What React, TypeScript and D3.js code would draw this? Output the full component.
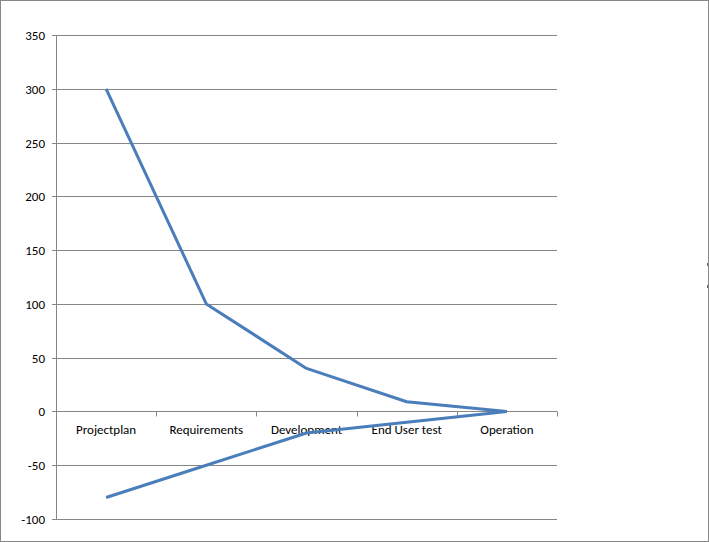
import React from "react";
import * as d3 from "d3";

const categories = ["Projectplan", "Requirements", "Development", "End User test", "Operation"];
const seriesUpper = [300, 100, 40, 9, 0];
const seriesLower = [-80, -50, -20, -10, 0];
const yTicks = [-100, -50, 0, 50, 100, 150, 200, 250, 300, 350];

const W = 709;
const H = 542;
const left = 56;
const right = 557;
const top = 35;
const bottom = 519;

export default function App() {
  const x = d3.scaleBand<string>().domain(categories).range([left, right]).paddingInner(0).paddingOuter(0);
  const y = d3.scaleLinear().domain([-100, 350]).range([bottom, top]);
  const line = d3
    .line<number>()
    .x((_, i) => (x(categories[i]) as number) + x.bandwidth() / 2)
    .y((d) => y(d));
  const font = "Calibri, Carlito, 'Open Sans', sans-serif";
  const tickXs = [...categories.map((c) => x(c) as number), right];
  return (
    <svg width={W} height={H} style={{ position: "fixed", left: 0, top: 0, background: "#fff" }}>
      <rect x={0.5} y={0.5} width={W - 1} height={H - 1} fill="#fff" stroke="#888" strokeWidth={1} />
      {yTicks.map((t) => (
        <g key={t}>
          <line x1={left - 4} x2={right} y1={Math.round(y(t)) + 0.5} y2={Math.round(y(t)) + 0.5} stroke="#868686" strokeWidth={1} />
          <text x={45} y={y(t) + 5} textAnchor="end" fontFamily={font} fontSize={13} fill="#000">
            {t}
          </text>
        </g>
      ))}
      <line x1={left + 0.5} x2={left + 0.5} y1={top} y2={bottom} stroke="#868686" strokeWidth={1} />
      {tickXs.map((tx, i) => (
        <line key={i} x1={Math.round(tx) + 0.5} x2={Math.round(tx) + 0.5} y1={y(0)} y2={y(0) + 5} stroke="#868686" strokeWidth={1} />
      ))}
      {categories.map((c) => (
        <text key={c} x={(x(c) as number) + x.bandwidth() / 2} y={y(0) + 23} textAnchor="middle" fontFamily={font} fontSize={13} fill="#000">
          {c}
        </text>
      ))}
      <path d={line(seriesUpper) || ""} fill="none" stroke="#4A7EBB" strokeWidth={3} strokeLinejoin="round" />
      <path d={line(seriesLower) || ""} fill="none" stroke="#4A7EBB" strokeWidth={3} strokeLinejoin="round" />
      <line x1={707.5} x2={707.5} y1={263} y2={266} stroke="#666" strokeWidth={1} />
      <line x1={707.5} x2={707.5} y1={285} y2={288} stroke="#666" strokeWidth={1} />
    </svg>
  );
}
